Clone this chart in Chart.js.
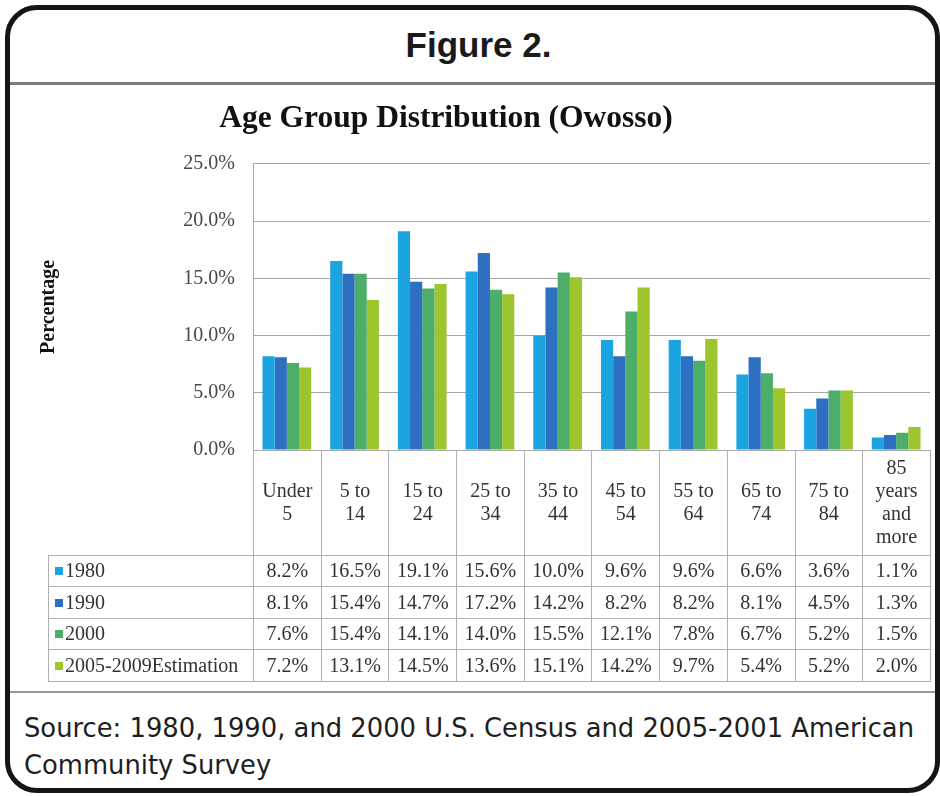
<!DOCTYPE html>
<html>
<head>
<meta charset="utf-8">
<title>Age Group Distribution (Owosso)</title>
<script src="https://cdn.jsdelivr.net/npm/chart.js@4.4.1/dist/chart.umd.min.js"></script>
<style>
    html, body { margin: 0; padding: 0; background: #fff; }
    body { width: 940px; height: 796px; position: relative; overflow: hidden; }
    #frame {
        position: absolute; left: 5px; top: 5px; width: 935px; height: 788px;
        box-sizing: border-box; border: 5px solid #151515; border-radius: 32px;
        z-index: 3; pointer-events: none;
    }
    #fig-title {
        position: absolute; left: 0; top: 27px; width: 957px; text-align: center;
        font: bold 35px/35px "Liberation Sans", Arial, sans-serif; color: #1a1a1a;
    }
    #image-box {
        position: absolute; left: 10px; top: 82px; width: 925px; height: 606px;
        border-top: 3px solid #7c7c7c; border-bottom: 2px solid #9a9a9a;
    }
    #chart { position: absolute; left: -38px; top: 86px; z-index: 1; }
    #source {
        position: absolute; left: 24px; top: 710px; width: 910px;
        font: 25.8px/37px "DejaVu Sans", Verdana, sans-serif; color: #1e1e1e;
    }
    #data-table {
        position: absolute; z-index: 2; border-collapse: collapse; table-layout: fixed;
        font: 20px "Liberation Serif", "Times New Roman", serif; color: #333;
    }
    #data-table th { font-weight: normal; padding: 0; line-height: 23px; vertical-align: middle; text-align: center; }
    #data-table th.cat { border-left: 1px solid #b0b0b0; border-right: 1px solid #b0b0b0; }
    #data-table td { border: 1px solid #b0b0b0; padding: 0; text-align: center; white-space: nowrap; }
    #data-table td.series { text-align: left; padding-left: 6px; }
    .swatch { display: inline-block; width: 8px; height: 8px; margin-right: 2px; vertical-align: 2px; }
</style>
</head>
<body>
<div id="image-box"></div>
<div id="fig-title">Figure 2.</div>
<canvas id="chart" width="968" height="600"></canvas>
<div id="source">Source: 1980, 1990, and 2000 U.S. Census and 2005-2001 American Community Survey</div>
<div id="frame"></div>

<script>
// kategori umur (baris label sumbu x)
const ageGroups = [
    ['Under', '5'], ['5 to', '14'], ['15 to', '24'], ['25 to', '34'], ['35 to', '44'],
    ['45 to', '54'], ['55 to', '64'], ['65 to', '74'], ['75 to', '84'], ['85', 'years', 'and', 'more']
];

const seriesNames = ['1980', '1990', '2000', '2005-2009Estimation'];

const pct1980 = [8.2, 16.5, 19.1, 15.6, 10.0, 9.6, 9.6, 6.6, 3.6, 1.1];
const pct1990 = [8.1, 15.4, 14.7, 17.2, 14.2, 8.2, 8.2, 8.1, 4.5, 1.3];
const pct2000 = [7.6, 15.4, 14.1, 14.0, 15.5, 12.1, 7.8, 6.7, 5.2, 1.5];
const pct2005 = [7.2, 13.1, 14.5, 13.6, 15.1, 14.2, 9.7, 5.4, 5.2, 2.0];

const yTicks = [0, 5, 10, 15, 20, 25];

const seriesColors = ['#1ca4e1', '#2d6fc0', '#4cae68', '#9cc52e'];

const CANVAS_LEFT = -38;
const CANVAS_TOP = 86;
const TABLE_LEFT = 48;

function fmt(v) {
    return v.toFixed(1) + '%';
}

document.addEventListener('DOMContentLoaded', () => {
    const allSeries = [pct1980, pct1990, pct2000, pct2005];
    const ctx = document.getElementById('chart').getContext('2d');

    const chart = new Chart(ctx, {
        type: 'bar',
        data: {
            labels: ageGroups,
            datasets: allSeries.map((values, i) => ({
                label: seriesNames[i],
                data: values,
                backgroundColor: seriesColors[i],
                borderWidth: 0,
                categoryPercentage: 0.72,
                barPercentage: 1.0
            }))
        },
        options: {
            responsive: false,
            animation: false,
            layout: { padding: 0 },
            plugins: {
                legend: { display: false },
                tooltip: { enabled: false },
                title: {
                    display: true,
                    text: 'Age Group Distribution (Owosso)',
                    color: '#111',
                    font: { family: 'Liberation Serif', size: 31.5, weight: 'bold' },
                    padding: { top: 14, bottom: 26 }
                }
            },
            scales: {
                x: {
                    ticks: { display: false },
                    grid: { display: false },
                    border: { display: true, color: '#a8a8a8' },
                    afterFit: s => { s.height = 236; }
                },
                y: {
                    min: yTicks[0],
                    max: yTicks[yTicks.length - 1],
                    afterBuildTicks: s => { s.ticks = yTicks.map(v => ({ value: v })); },
                    ticks: {
                        callback: v => fmt(v),
                        color: '#484848',
                        padding: 18,
                        font: { family: 'Liberation Serif', size: 20 }
                    },
                    grid: { color: '#a8a8a8', drawTicks: false },
                    border: { color: '#a8a8a8' },
                    title: {
                        display: true,
                        text: 'Percentage',
                        color: '#111',
                        padding: { top: 75, bottom: 0 },
                        font: { family: 'Liberation Serif', size: 20, weight: 'bold' }
                    },
                    afterFit: s => { s.width = 291; }
                }
            }
        }
    });

    buildDataTable(chart, allSeries);
});

// tabel data di bawah grafik, kolomnya mengikuti skala x
function buildDataTable(chart, allSeries) {
    const xs = chart.scales.x;
    const area = chart.chartArea;
    const step = xs.getPixelForValue(1) - xs.getPixelForValue(0);
    const firstEdge = CANVAS_LEFT + xs.getPixelForValue(0) - step / 2;

    const table = document.createElement('table');
    table.id = 'data-table';
    table.style.left = TABLE_LEFT + 'px';
    table.style.top = (CANVAS_TOP + area.bottom) + 'px';
    table.style.width = (firstEdge - TABLE_LEFT + step * ageGroups.length) + 'px';

    const colgroup = document.createElement('colgroup');
    const legendCol = document.createElement('col');
    legendCol.style.width = (firstEdge - TABLE_LEFT) + 'px';
    colgroup.appendChild(legendCol);
    ageGroups.forEach(() => {
        const c = document.createElement('col');
        c.style.width = step + 'px';
        colgroup.appendChild(c);
    });
    table.appendChild(colgroup);

    const head = document.createElement('tr');
    head.style.height = '105px';
    head.appendChild(document.createElement('th'));
    ageGroups.forEach(lines => {
        const th = document.createElement('th');
        th.className = 'cat';
        th.innerHTML = lines.join('<br>');
        head.appendChild(th);
    });
    table.appendChild(head);

    allSeries.forEach((values, i) => {
        const tr = document.createElement('tr');
        tr.style.height = '31.5px';
        const name = document.createElement('td');
        name.className = 'series';
        name.innerHTML = `<span class="swatch" style="background:${seriesColors[i]}"></span>${seriesNames[i]}`;
        tr.appendChild(name);
        values.forEach(v => {
            const td = document.createElement('td');
            td.textContent = fmt(v);
            tr.appendChild(td);
        });
        table.appendChild(tr);
    });

    document.body.appendChild(table);
}
</script>
</body>
</html>
